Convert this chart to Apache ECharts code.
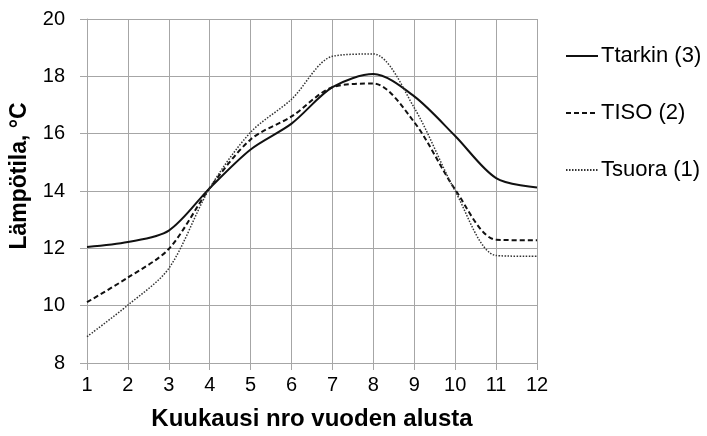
<!DOCTYPE html>
<html>
<head>
<meta charset="utf-8">
<script src="https://cdn.jsdelivr.net/npm/echarts@6/dist/echarts.min.js"></script>
<style>html,body{margin:0;padding:0;background:#fff;}#c{width:707px;height:436px;}</style>
</head>
<body>
<div id="c"></div>
<script>
var months = [1, 2, 3, 4, 5, 6, 7, 8, 9, 10, 11, 12];
var ttarkin = [12.05, 12.22, 12.62, 14.1, 15.45, 16.35, 17.62, 18.08, 17.3, 15.92, 14.45, 14.12];
var tiso = [10.12, 10.98, 11.98, 14.1, 15.8, 16.6, 17.62, 17.75, 16.4, 14.05, 12.3, 12.28];
var tsuora = [8.92, 10.02, 11.3, 14.1, 16.05, 17.2, 18.7, 18.78, 16.9, 14.0, 11.75, 11.72];
var seriesNames = ['Ttarkin (3)', 'TISO (2)', 'Tsuora (1)'];
var yTicks = {min: 8, max: 20, step: 2};
var xTicks = {min: 1, max: 12, step: 1};

function pairs(v) { return months.map(function (m, i) { return [m, v[i]]; }); }

var chart = echarts.init(document.getElementById('c'), null, {renderer: 'canvas'});
var font = '"Liberation Sans", Arial, sans-serif';
var gridCol = '#a6a6a6';
chart.setOption({
  animation: false,
  backgroundColor: '#fff',
  grid: {left: 87, right: 170, top: 19, bottom: 70, containLabel: false},
  legend: {
    orient: 'vertical', left: 565, top: 45, padding: 0, itemWidth: 32, itemHeight: 14, itemGap: 35,
    data: seriesNames,
    itemStyle: {opacity: 0},
    textStyle: {fontFamily: font, fontSize: 22, color: '#000', padding: [0, 0, 0, -2]}
  },
  xAxis: {
    type: 'value', min: xTicks.min, max: xTicks.max, interval: xTicks.step,
    name: 'Kuukausi nro vuoden alusta', nameLocation: 'middle', nameGap: 44,
    nameTextStyle: {fontFamily: font, fontSize: 24, fontWeight: 'bold', color: '#000'},
    axisLine: {show: true, lineStyle: {color: gridCol, width: 1}},
    axisTick: {show: true, length: 7, lineStyle: {color: gridCol}},
    axisLabel: {fontFamily: font, fontSize: 20, color: '#000', margin: 12},
    splitLine: {show: true, lineStyle: {color: gridCol, width: 1}}
  },
  yAxis: {
    type: 'value', min: yTicks.min, max: yTicks.max, interval: yTicks.step,
    name: 'Lämpötila, °C', nameLocation: 'middle', nameGap: 56,
    nameTextStyle: {fontFamily: font, fontSize: 23, fontWeight: 'bold', color: '#000', padding: [0, 0, 0, 30]},
    axisLine: {show: true, lineStyle: {color: gridCol, width: 1}},
    axisTick: {show: true, length: 7, lineStyle: {color: gridCol}},
    axisLabel: {fontFamily: font, fontSize: 20, color: '#000', margin: 22},
    splitLine: {show: true, lineStyle: {color: gridCol, width: 1}}
  },
  series: [
    {name: seriesNames[0], type: 'line', smooth: 0.3, symbol: 'none', data: pairs(ttarkin),
     lineStyle: {color: '#111', width: 2, type: 'solid'}, itemStyle: {color: '#111'}},
    {name: seriesNames[1], type: 'line', smooth: 0.3, symbol: 'none', data: pairs(tiso),
     lineStyle: {color: '#111', width: 2, type: [5, 3]}, itemStyle: {color: '#111'}},
    {name: seriesNames[2], type: 'line', smooth: 0.3, symbol: 'none', data: pairs(tsuora),
     lineStyle: {color: '#333', width: 1.5, type: [1.5, 1.5]}, itemStyle: {color: '#333'}}
  ]
});
</script>
</body>
</html>
